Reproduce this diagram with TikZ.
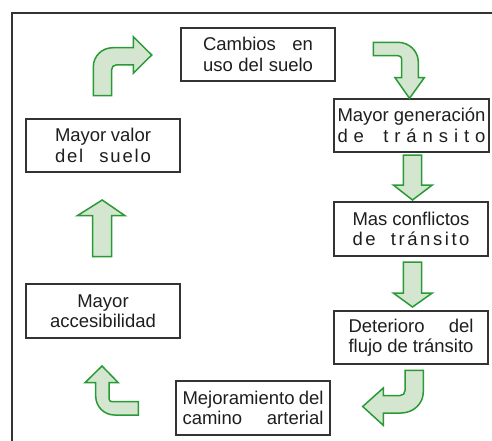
\documentclass[tikz,border=0pt]{standalone}
\usepackage{fontspec}
\setmainfont{Liberation Sans}
\definecolor{agreen}{HTML}{2A9A36}
\definecolor{afill}{HTML}{D4E6D0}
\definecolor{boxgray}{HTML}{333333}
\definecolor{txt}{HTML}{1E1E1E}
\newcommand{\gp}{\hspace{0pt plus 1fil}}
\begin{document}
\begin{tikzpicture}[x=1pt,y=-1pt,
  box/.style={draw=boxgray,line width=1.4pt,inner sep=0pt,minimum width=154pt,minimum height=53pt,align=center,font=\fontsize{18.5}{20.5}\selectfont,text=txt},
  barrow/.style={draw=agreen,fill=afill,line width=1.5pt,line join=miter}]
\useasboundingbox (0,0) rectangle (492,441);
\fill[white] (0,0) rectangle (492,441);
\draw[boxgray,line width=1.7pt] (11.7,441) -- (11.7,12.7) -- (492,12.7);

\node[box] (cambios) at (258,54.5) {\makebox[110pt][s]{Cambios en}\\\makebox[110pt][s]{uso del suelo}};
\node[box,minimum width=155pt] (gen) at (411.5,125.5) {\makebox[148pt][s]{Mayor generación}\\\makebox[148pt][s]{d\gp e\hspace{5pt plus 2.4fil}t\gp r\gp á\gp n\gp s\gp i\gp t\gp o}};
\node[box,minimum height=54pt] (conf) at (411,229) {\makebox[117pt][s]{Mas conflictos}\\\makebox[117pt][s]{d\gp e\hspace{5pt plus 4fil}t\gp r\gp á\gp n\gp s\gp i\gp t\gp o}};
\node[box] (det) at (411,337.5) {\makebox[125pt][s]{Deterioro del}\\\makebox[125pt][s]{flujo de tránsito}};
\node[box,minimum height=54pt] (mej) at (253,408) {\makebox[141pt][s]{Mejoramiento del}\\\makebox[141pt][s]{camino arterial}};
\node[box,minimum height=54pt] (acc) at (103,311) {Mayor\\accesibilidad};
\node[box] (valor) at (103,145.5) {\makebox[96pt][s]{Mayor valor}\\\makebox[96pt][s]{d\gp e\gp l\hspace{5pt plus 6fil}s\gp u\gp e\gp l\gp o}};

% top-left: up then right
\draw[barrow] (93.3,95.7) -- (93.3,67) .. controls (93.3,56) and (102,47.7) .. (113,47.7)
  -- (133.3,47.7) -- (133.3,36.7) -- (151.7,55) -- (133.3,73.3) -- (133.3,65) -- (116,65)
  .. controls (113.5,65) and (111.7,67) .. (111.7,69.5) -- (111.7,95.7) -- cycle;
% top-right: right then down
\draw[barrow] (373.3,42.3) -- (398,42.3) .. controls (409,42.3) and (418.3,51) .. (418.3,62)
  -- (418.3,77.7) -- (424.3,77.7) -- (409.5,98.3) -- (395,77.7) -- (401.7,77.7) -- (401.7,59)
  .. controls (401.7,57) and (400,55.7) .. (398,55.7) -- (373.3,55.7) -- cycle;
% straight down arrows
\draw[barrow] (403.3,155) -- (421.7,155) -- (421.7,185) -- (432.3,185) -- (412.5,200)
  -- (393.3,185) -- (403.3,185) -- cycle;
\draw[barrow] (403.3,262) -- (421.7,262) -- (421.7,293) -- (432.3,293) -- (412.5,307)
  -- (393.3,293) -- (403.3,293) -- cycle;
% bottom-right: down then left
\draw[barrow] (423.3,370.3) -- (423.3,392) .. controls (423.3,404) and (413,413) .. (401,413)
  -- (383.3,413) -- (383.3,425.3) -- (362.7,406.5) -- (383.3,388) -- (383.3,395.5) -- (400,395.5)
  .. controls (403,395.5) and (405,393.5) .. (405,390.5) -- (405,370.3) -- cycle;
% bottom-left: left then up
\draw[barrow] (138.3,401.7) -- (112,401.7) .. controls (110.3,401.7) and (109,400.4) .. (109,398.7)
  -- (109,382.7) -- (118.3,382.7) -- (102,366) -- (85,382.7) -- (95.7,382.7) -- (95.7,396)
  .. controls (95.7,406.5) and (104,415) .. (114.5,415) -- (138.3,415) -- cycle;
% straight up arrow
\draw[barrow] (92.7,256.7) -- (92.7,215.7) -- (77.3,215.7) -- (102.2,200) -- (125,215.7)
  -- (111.7,215.7) -- (111.7,256.7) -- cycle;
\end{tikzpicture}
\end{document}
